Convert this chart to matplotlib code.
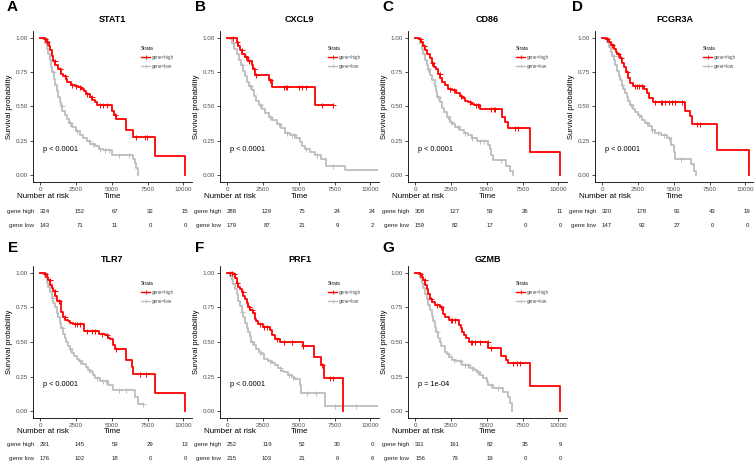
import matplotlib
matplotlib.use("Agg")
import matplotlib.pyplot as plt
from matplotlib.lines import Line2D
import numpy as np

plt.rcParams['font.family'] = ['Liberation Sans', 'DejaVu Sans']

W, H = 754, 461

# ---- Kaplan-Meier curves: event times, survival after event ----
STAT1_HIGH_T = [300, 450, 600, 700, 800, 900, 1050, 1250, 1450, 1600, 1800, 1900, 2150, 2400, 2650,
                2850, 3050, 3200, 3450, 3650, 3850, 4000, 5000, 5150, 5300, 6000, 6450, 8000, 10150]
STAT1_HIGH_S = [0.99, 0.97, 0.94, 0.91, 0.87, 0.83, 0.80, 0.77, 0.74, 0.72, 0.70, 0.68, 0.66, 0.65, 0.64,
                0.63, 0.61, 0.59, 0.57, 0.55, 0.53, 0.51, 0.47, 0.44, 0.41, 0.33, 0.28, 0.14, 0.0]
STAT1_HIGH_C = [350, 500, 1000, 1350, 1700, 2200, 2500, 2750, 3300, 3600, 4200, 4400, 4700, 5200,
                6700, 7300, 7450]
STAT1_LOW_T = [200, 350, 450, 550, 650, 750, 850, 950, 1050, 1150, 1250, 1350, 1450, 1550, 1700, 1850,
               2000, 2250, 2500, 2750, 3000, 3250, 3500, 3800, 4100, 4400, 5000, 6450, 6600, 6700, 6850]
STAT1_LOW_S = [0.99, 0.96, 0.92, 0.88, 0.84, 0.79, 0.75, 0.70, 0.66, 0.61, 0.57, 0.53, 0.50, 0.47, 0.44,
               0.41, 0.38, 0.35, 0.32, 0.29, 0.27, 0.25, 0.23, 0.21, 0.19, 0.18, 0.15, 0.12, 0.09, 0.05, 0.0]
STAT1_LOW_C = [300, 900, 1500, 2100, 2600, 3400, 3700, 4200, 4500, 4800, 5500, 6200]

CXCL9_HIGH_T = [650, 760, 880, 1040, 1230, 1460, 1700, 1800, 1920, 2950, 3120, 6100]
CXCL9_HIGH_S = [0.97, 0.94, 0.91, 0.88, 0.86, 0.83, 0.80, 0.77, 0.73, 0.69, 0.64, 0.51]
CXCL9_HIGH_END = 7400
CXCL9_HIGH_C = [400, 700, 1000, 1300, 1500, 1900, 2000, 3000, 4000, 4100, 4150, 5000, 5250, 5500,
                6600, 7400]
CXCL9_LOW_T = [200, 350, 500, 650, 800, 950, 1100, 1250, 1400, 1550, 1700, 1850, 2000, 2200, 2400, 2650,
               2900, 3150, 3450, 3750, 4050, 4400, 4800, 5100, 5250, 5450, 5800, 6100, 6550, 6900, 8200]
CXCL9_LOW_S = [0.99, 0.96, 0.92, 0.88, 0.84, 0.80, 0.76, 0.72, 0.68, 0.65, 0.62, 0.58, 0.54, 0.51, 0.48,
               0.45, 0.42, 0.40, 0.37, 0.34, 0.31, 0.29, 0.27, 0.24, 0.21, 0.19, 0.17, 0.15, 0.12, 0.07, 0.035]
CXCL9_LOW_END = 10500
CXCL9_LOW_C = [400, 1000, 1600, 2300, 3000, 3600, 4200, 4500, 4700, 5500, 6300, 7400]

CD86_HIGH_T = [250, 400, 550, 700, 850, 1000, 1150, 1300, 1450, 1600, 1750, 1900, 2100, 2300, 2550,
               2850, 3100, 3300, 3500, 3700, 3900, 4100, 4500, 6050, 6250, 6500, 8050, 10150]
CD86_HIGH_S = [0.99, 0.97, 0.94, 0.91, 0.88, 0.85, 0.82, 0.79, 0.77, 0.74, 0.71, 0.68, 0.66, 0.63, 0.62,
               0.60, 0.58, 0.56, 0.54, 0.53, 0.52, 0.51, 0.48, 0.42, 0.39, 0.34, 0.17, 0.0]
CD86_HIGH_C = [300, 600, 1200, 1700, 2400, 2700, 3200, 3800, 4250, 4400, 5300, 5500, 5600, 7000, 7200]
CD86_LOW_T = [200, 350, 450, 550, 700, 800, 900, 1050, 1200, 1350, 1450, 1550, 1700, 1850, 2000, 2200,
              2400, 2600, 2800, 3100, 3400, 3700, 3950, 4300, 5100, 5200, 5300, 5400, 6350, 6600, 6800]
CD86_LOW_S = [0.99, 0.96, 0.92, 0.88, 0.84, 0.80, 0.77, 0.73, 0.69, 0.65, 0.61, 0.57, 0.53, 0.49, 0.46,
              0.42, 0.39, 0.37, 0.35, 0.33, 0.31, 0.29, 0.27, 0.25, 0.22, 0.19, 0.15, 0.11, 0.07, 0.03, 0.0]
CD86_LOW_C = [300, 900, 1600, 2300, 2500, 3000, 3500, 4000, 4500, 4800, 6000]

FCGR3A_HIGH_T = [250, 450, 600, 800, 950, 1050, 1250, 1400, 1500, 1650, 1800, 1950, 2150, 2900, 3100,
                 3300, 3550, 5800, 6150, 6250, 8050, 10250]
FCGR3A_HIGH_S = [0.99, 0.97, 0.95, 0.92, 0.90, 0.88, 0.85, 0.82, 0.79, 0.75, 0.71, 0.67, 0.65, 0.63,
                 0.60, 0.56, 0.53, 0.47, 0.43, 0.37, 0.18, 0.0]
FCGR3A_HIGH_C = [300, 700, 1100, 1300, 1700, 2300, 2450, 2600, 2750, 3700, 4100, 4200, 4400, 4700,
                 4900, 5100, 5600, 6600, 6800]
FCGR3A_LOW_T = [200, 350, 480, 600, 700, 820, 925, 1050, 1150, 1250, 1370, 1480, 1590, 1700, 1810, 1950,
                2140, 2300, 2470, 2650, 2800, 3000, 3240, 3450, 3680, 4120, 4560, 4780, 5000, 5110, 6210,
                6430, 6540]
FCGR3A_LOW_S = [0.99, 0.97, 0.93, 0.90, 0.87, 0.84, 0.80, 0.76, 0.72, 0.69, 0.66, 0.63, 0.60, 0.57, 0.54,
                0.51, 0.48, 0.46, 0.44, 0.42, 0.40, 0.38, 0.36, 0.33, 0.31, 0.29, 0.27, 0.22, 0.17, 0.12,
                0.08, 0.03, 0.0]
FCGR3A_LOW_C = [300, 800, 1400, 2000, 2600, 3100, 3500, 3900, 4300, 4700, 5500]

TLR7_HIGH_T = [300, 450, 570, 680, 800, 910, 1050, 1140, 1430, 1590, 1750, 1930, 2100, 2270, 3070, 4090,
               4550, 4750, 4890, 5110, 5230, 6020, 6410, 6480, 8000, 10150]
TLR7_HIGH_S = [0.99, 0.97, 0.95, 0.91, 0.89, 0.87, 0.83, 0.80, 0.72, 0.68, 0.66, 0.65, 0.64, 0.63, 0.58,
               0.56, 0.55, 0.53, 0.52, 0.48, 0.45, 0.37, 0.32, 0.27, 0.13, 0.0]
TLR7_HIGH_C = [350, 650, 1000, 1300, 1700, 2400, 2600, 2800, 3300, 3600, 3800, 4300, 4700, 5300,
               7000, 7400]
TLR7_LOW_T = [200, 340, 450, 560, 680, 800, 910, 1020, 1140, 1250, 1360, 1480, 1590, 1700, 1820, 1930,
              2050, 2200, 2390, 2550, 2730, 2950, 3180, 3350, 3520, 3700, 3860, 4200, 4770, 5050, 6590, 6820]
TLR7_LOW_S = [0.99, 0.97, 0.93, 0.90, 0.86, 0.82, 0.78, 0.75, 0.71, 0.68, 0.64, 0.60, 0.56, 0.53, 0.50,
              0.47, 0.45, 0.42, 0.40, 0.38, 0.36, 0.34, 0.32, 0.30, 0.28, 0.26, 0.24, 0.22, 0.19, 0.15,
              0.10, 0.05]
TLR7_LOW_END = 7200
TLR7_LOW_C = [300, 900, 1500, 2100, 2800, 3400, 4000, 4400, 4600, 5500, 6000, 7200]

PRF1_HIGH_T = [420, 530, 650, 760, 880, 1000, 1120, 1230, 1350, 1460, 1600, 1810, 1920, 2030, 2150,
               2500, 2960, 3120, 3310, 3660, 5280, 6090, 6550, 6780, 8120]
PRF1_HIGH_S = [0.99, 0.96, 0.93, 0.90, 0.88, 0.86, 0.83, 0.81, 0.78, 0.75, 0.73, 0.71, 0.67, 0.65, 0.63,
               0.61, 0.59, 0.55, 0.52, 0.50, 0.47, 0.39, 0.33, 0.24, 0.0]
PRF1_HIGH_C = [200, 300, 500, 700, 1100, 1500, 1700, 2300, 2600, 2800, 3500, 4000, 4500, 5300, 6600,
               7200, 7400]
PRF1_LOW_T = [190, 300, 420, 530, 650, 760, 880, 1000, 1120, 1230, 1350, 1460, 1580, 1690, 1850, 2040,
              2200, 2380, 2600, 2850, 3100, 3310, 3550, 3780, 4000, 4240, 4500, 4700, 5050, 5160, 6850]
PRF1_LOW_S = [0.98, 0.95, 0.92, 0.88, 0.85, 0.80, 0.76, 0.72, 0.68, 0.64, 0.60, 0.57, 0.54, 0.50, 0.48,
              0.45, 0.43, 0.41, 0.38, 0.36, 0.35, 0.33, 0.31, 0.29, 0.28, 0.26, 0.25, 0.23, 0.19, 0.13, 0.04]
PRF1_LOW_END = 10500
PRF1_LOW_C = [250, 1000, 1700, 2300, 3000, 3700, 4300, 4600, 5600, 6200, 7500, 9000]

GZMB_HIGH_T = [300, 450, 570, 680, 800, 910, 1020, 1200, 1360, 1700, 1930, 2050, 2390, 3070, 3180, 3300,
               3410, 3520, 3750, 5110, 6020, 6360, 6480, 8000, 10150]
GZMB_HIGH_S = [0.99, 0.97, 0.95, 0.91, 0.88, 0.85, 0.81, 0.79, 0.77, 0.75, 0.70, 0.68, 0.66, 0.62, 0.60,
               0.57, 0.55, 0.53, 0.50, 0.46, 0.40, 0.37, 0.35, 0.18, 0.0]
GZMB_HIGH_C = [350, 650, 1100, 1500, 1800, 2500, 2600, 2800, 3900, 4000, 4200, 4500, 5100, 5300, 6800,
               7100, 7300]
GZMB_LOW_T = [200, 340, 450, 560, 680, 800, 910, 1020, 1140, 1250, 1360, 1480, 1590, 1700, 1820, 2050,
              2200, 2390, 2600, 2840, 3300, 3860, 4100, 4320, 4550, 4770, 5000, 5110, 5450, 6140, 6480,
              6590, 6770]
GZMB_LOW_S = [0.99, 0.96, 0.93, 0.89, 0.85, 0.81, 0.77, 0.73, 0.69, 0.65, 0.61, 0.57, 0.53, 0.50, 0.47,
              0.43, 0.41, 0.39, 0.37, 0.36, 0.33, 0.31, 0.30, 0.28, 0.26, 0.24, 0.21, 0.19, 0.17, 0.14,
              0.10, 0.06, 0.0]
GZMB_LOW_C = [300, 900, 1500, 2300, 2700, 3100, 3500, 3700, 4000, 4400, 5300, 5800]

# ---- numbers at risk at 0, 2500, 5000, 7500, 10000 ----
RISK_TIMES = [0, 2500, 5000, 7500, 10000]
STAT1_RISK = ([324, 152, 67, 32, 15], [143, 71, 11, 0, 0])
CXCL9_RISK = ([288, 129, 75, 24, 24], [179, 87, 21, 9, 2])
CD86_RISK = ([308, 127, 59, 26, 11], [159, 82, 17, 0, 0])
FCGR3A_RISK = ([320, 178, 91, 43, 19], [147, 92, 27, 0, 0])
TLR7_RISK = ([291, 145, 59, 29, 13], [176, 102, 18, 0, 0])
PRF1_RISK = ([252, 119, 52, 30, 0], [215, 103, 21, 6, 6])
GZMB_RISK = ([311, 161, 82, 35, 9], [156, 79, 19, 0, 0])

GENES = ['STAT1', 'CXCL9', 'CD86', 'FCGR3A', 'TLR7', 'PRF1', 'GZMB']
LETTERS = ['A', 'B', 'C', 'D', 'E', 'F', 'G']
PVALUES = ['p < 0.0001'] * 6 + ['p = 1e-04']

PANELS = [
    ((STAT1_HIGH_T, STAT1_HIGH_S, None, STAT1_HIGH_C), (STAT1_LOW_T, STAT1_LOW_S, None, STAT1_LOW_C), STAT1_RISK),
    ((CXCL9_HIGH_T, CXCL9_HIGH_S, CXCL9_HIGH_END, CXCL9_HIGH_C), (CXCL9_LOW_T, CXCL9_LOW_S, CXCL9_LOW_END, CXCL9_LOW_C), CXCL9_RISK),
    ((CD86_HIGH_T, CD86_HIGH_S, None, CD86_HIGH_C), (CD86_LOW_T, CD86_LOW_S, None, CD86_LOW_C), CD86_RISK),
    ((FCGR3A_HIGH_T, FCGR3A_HIGH_S, None, FCGR3A_HIGH_C), (FCGR3A_LOW_T, FCGR3A_LOW_S, None, FCGR3A_LOW_C), FCGR3A_RISK),
    ((TLR7_HIGH_T, TLR7_HIGH_S, None, TLR7_HIGH_C), (TLR7_LOW_T, TLR7_LOW_S, TLR7_LOW_END, TLR7_LOW_C), TLR7_RISK),
    ((PRF1_HIGH_T, PRF1_HIGH_S, None, PRF1_HIGH_C), (PRF1_LOW_T, PRF1_LOW_S, PRF1_LOW_END, PRF1_LOW_C), PRF1_RISK),
    ((GZMB_HIGH_T, GZMB_HIGH_S, None, GZMB_HIGH_C), (GZMB_LOW_T, GZMB_LOW_S, None, GZMB_LOW_C), GZMB_RISK),
]

RED = '#FF0000'
GREY = '#BDBDBD'
TXT = '#4D4D4D'

# layout in pixels (left of plot panel, top row / bottom row)
COL_LEFT = [33, 220, 408, 595, 33, 220, 408]
ROW = [dict(top=31, bot=182, title=20, letter=7, nar=196, tab_top=204),
       dict(top=266, bot=418, title=259, letter=248, nar=431, tab_top=437)]
LETTER_X = [7, 195, 382, 572, 8, 195, 382]
PW = 159


def fx(px):
    return px / W


def fy(py):
    return 1 - py / H


def draw_km(ax, t, s, end, cens, color):
    t = list(t)
    s = list(s)
    if end is None:
        end = t[-1]
    x = [0] + t + [end]
    y = [1.0] + s + [s[-1]]
    ax.step(x, y, where='post', color=color, lw=1.3)
    ta = np.array(t)
    cx, cy = [], []
    for c in cens:
        i = np.searchsorted(ta, c, side='right')
        cy.append(1.0 if i == 0 else s[i - 1])
        cx.append(c)
    ax.plot(cx, cy, '+', color=color, ms=3.6, mew=0.7, ls='none')


fig = plt.figure(figsize=(W / 100, H / 100), dpi=100)

for k, (high, low, risk) in enumerate(PANELS):
    r = ROW[0] if k < 4 else ROW[1]
    left = COL_LEFT[k]
    ax = fig.add_axes([fx(left), fy(r['bot']), fx(PW), (r['bot'] - r['top']) / H])
    draw_km(ax, *low, GREY)
    draw_km(ax, *high, RED)
    ax.set_xlim(-505, 10605)
    ax.set_ylim(-0.05, 1.05)
    ax.set_xticks([0, 2500, 5000, 7500, 10000])
    ax.set_yticks([0, 0.25, 0.5, 0.75, 1.0])
    ax.set_yticklabels(['0.00', '0.25', '0.50', '0.75', '1.00'])
    for sp in ['top', 'right']:
        ax.spines[sp].set_visible(False)
    for sp in ['left', 'bottom']:
        ax.spines[sp].set_linewidth(0.6)
    ax.tick_params(labelsize=4.5, labelcolor=TXT, length=2, width=0.5, pad=1.5)
    ax.set_ylabel('Survival probability', fontsize=5.5)
    ax.yaxis.set_label_coords(-20 / PW, 0.5)
    ax.set_xlabel('Time', fontsize=5.8)
    ax.xaxis.set_label_coords(0.5, -(r['nar'] - r['bot']) / (r['bot'] - r['top']))
    ax.xaxis.label.set_va('center')
    ax.text(200, 0.19, PVALUES[k], fontsize=5.3, va='center', ha='left')

    handles = [Line2D([], [], color=RED, lw=1.0, marker='+', ms=2.8, mew=0.6),
               Line2D([], [], color=GREY, lw=1.0, marker='+', ms=2.8, mew=0.6)]
    leg = ax.legend(handles, ['gene=high', 'gene=low'], title='Strata', loc='upper left',
                    bbox_to_anchor=(0.66, 0.92), fontsize=3.3, title_fontsize=3.3, frameon=False,
                    handlelength=2.0, handletextpad=0.4, labelspacing=0.8, alignment='left',
                    borderpad=0.2)
    for txt in leg.get_texts():
        txt.set_color(TXT)

    cx = left + PW / 2
    fig.text(fx(cx), fy(r['title']), GENES[k], fontsize=6.5, fontweight='bold',
             ha='center', va='center')
    fig.text(fx(LETTER_X[k]), fy(r['letter']), LETTERS[k], fontsize=11, fontweight='bold',
             ha='left', va='center')
    fig.text(fx(left - 16), fy(r['nar']), 'Number at risk', fontsize=5.8, ha='left', va='center')

    # risk table
    tab = fig.add_axes([fx(left + 12), fy(r['tab_top'] + 28), fx(140), 28 / H])
    tab.set_xlim(0, 10000)
    tab.set_ylim(0, 2)
    tab.axis('off')
    for yy, row, lab in [(1.5, risk[0], 'gene high'), (0.5, risk[1], 'gene low')]:
        for tt, n in zip(RISK_TIMES, row):
            tab.text(tt, yy, str(n), fontsize=4.3, ha='center', va='center', color='#222222')
        tab.text(-11 / 140, yy, lab, transform=tab.get_yaxis_transform(), fontsize=4.5,
                 ha='right', va='center', color='#222222')

fig.savefig('out.png', dpi=100)
